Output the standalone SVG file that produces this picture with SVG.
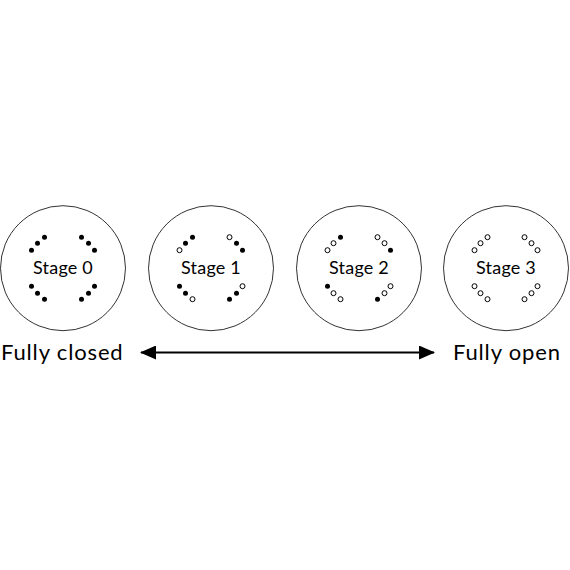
<svg xmlns="http://www.w3.org/2000/svg" xmlns:xlink="http://www.w3.org/1999/xlink" width="570" height="570" viewBox="0 0 570 570">
<style>
.ring{fill:#fff;stroke:#333;stroke-width:1}
.f{fill:#000}
.o{fill:#fff;stroke:#000;stroke-width:1}
.lbl{font-family:Lato,"Liberation Sans",sans-serif;font-size:18px;fill:#000;text-anchor:middle;letter-spacing:0.2px}
.end{font-family:Lato,"Liberation Sans",sans-serif;font-size:22px;fill:#000;letter-spacing:0.85px}
.arr{stroke:#000;stroke-width:2;fill:none}
</style>
<defs>
<marker id="ah" viewBox="0 0 16 14" refX="15" refY="7" markerWidth="16" markerHeight="14" markerUnits="userSpaceOnUse" orient="auto-start-reverse">
<path d="M0,0 L16,7 L0,14 Z" fill="#000"/>
</marker>
</defs>
<rect width="570" height="570" fill="#fff"/>
<g id="stage0" transform="translate(63,268.2)">
<circle class="ring" r="62.5"/>
<circle class="f" cx="-31.5" cy="-18" r="2.5"/><circle class="f" cx="-25.5" cy="-25" r="2.5"/><circle class="f" cx="-18.5" cy="-31" r="2.5"/>
<circle class="f" cx="18.5" cy="-31" r="2.5"/><circle class="f" cx="25.5" cy="-25" r="2.5"/><circle class="f" cx="31.5" cy="-18" r="2.5"/>
<circle class="f" cx="31.5" cy="18" r="2.5"/><circle class="f" cx="25.5" cy="25" r="2.5"/><circle class="f" cx="18.5" cy="31" r="2.5"/>
<circle class="f" cx="-18.5" cy="31" r="2.5"/><circle class="f" cx="-25.5" cy="25" r="2.5"/><circle class="f" cx="-31.5" cy="18" r="2.5"/>
<text class="lbl" x="0" y="6">Stage 0</text>
</g>
<g id="stage1" transform="translate(211,268.2)">
<circle class="ring" r="62.5"/>
<circle class="o" cx="-31.5" cy="-18" r="2.5"/><circle class="f" cx="-25.5" cy="-25" r="2.5"/><circle class="f" cx="-18.5" cy="-31" r="2.5"/>
<circle class="o" cx="18.5" cy="-31" r="2.5"/><circle class="f" cx="25.5" cy="-25" r="2.5"/><circle class="f" cx="31.5" cy="-18" r="2.5"/>
<circle class="o" cx="31.5" cy="18" r="2.5"/><circle class="f" cx="25.5" cy="25" r="2.5"/><circle class="f" cx="18.5" cy="31" r="2.5"/>
<circle class="o" cx="-18.5" cy="31" r="2.5"/><circle class="f" cx="-25.5" cy="25" r="2.5"/><circle class="f" cx="-31.5" cy="18" r="2.5"/>
<text class="lbl" x="0" y="6">Stage 1</text>
</g>
<g id="stage2" transform="translate(359,268.2)">
<circle class="ring" r="62.5"/>
<circle class="o" cx="-31.5" cy="-18" r="2.5"/><circle class="o" cx="-25.5" cy="-25" r="2.5"/><circle class="f" cx="-18.5" cy="-31" r="2.5"/>
<circle class="o" cx="18.5" cy="-31" r="2.5"/><circle class="o" cx="25.5" cy="-25" r="2.5"/><circle class="f" cx="31.5" cy="-18" r="2.5"/>
<circle class="o" cx="31.5" cy="18" r="2.5"/><circle class="o" cx="25.5" cy="25" r="2.5"/><circle class="f" cx="18.5" cy="31" r="2.5"/>
<circle class="o" cx="-18.5" cy="31" r="2.5"/><circle class="o" cx="-25.5" cy="25" r="2.5"/><circle class="f" cx="-31.5" cy="18" r="2.5"/>
<text class="lbl" x="0" y="6">Stage 2</text>
</g>
<g id="stage3" transform="translate(506,268.2)">
<circle class="ring" r="62.5"/>
<circle class="o" cx="-31.5" cy="-18" r="2.5"/><circle class="o" cx="-25.5" cy="-25" r="2.5"/><circle class="o" cx="-18.5" cy="-31" r="2.5"/>
<circle class="o" cx="18.5" cy="-31" r="2.5"/><circle class="o" cx="25.5" cy="-25" r="2.5"/><circle class="o" cx="31.5" cy="-18" r="2.5"/>
<circle class="o" cx="31.5" cy="18" r="2.5"/><circle class="o" cx="25.5" cy="25" r="2.5"/><circle class="o" cx="18.5" cy="31" r="2.5"/>
<circle class="o" cx="-18.5" cy="31" r="2.5"/><circle class="o" cx="-25.5" cy="25" r="2.5"/><circle class="o" cx="-31.5" cy="18" r="2.5"/>
<text class="lbl" x="0" y="6">Stage 3</text>
</g>
<g id="label-closed"><text class="end" x="1" y="360">Fully closed</text></g>
<g id="label-open"><text class="end" x="453" y="360">Fully open</text></g>
<g id="connectors">
<line class="arr" x1="141" y1="352.5" x2="434" y2="352.5" marker-start="url(#ah)" marker-end="url(#ah)"/>
</g>
</svg>
